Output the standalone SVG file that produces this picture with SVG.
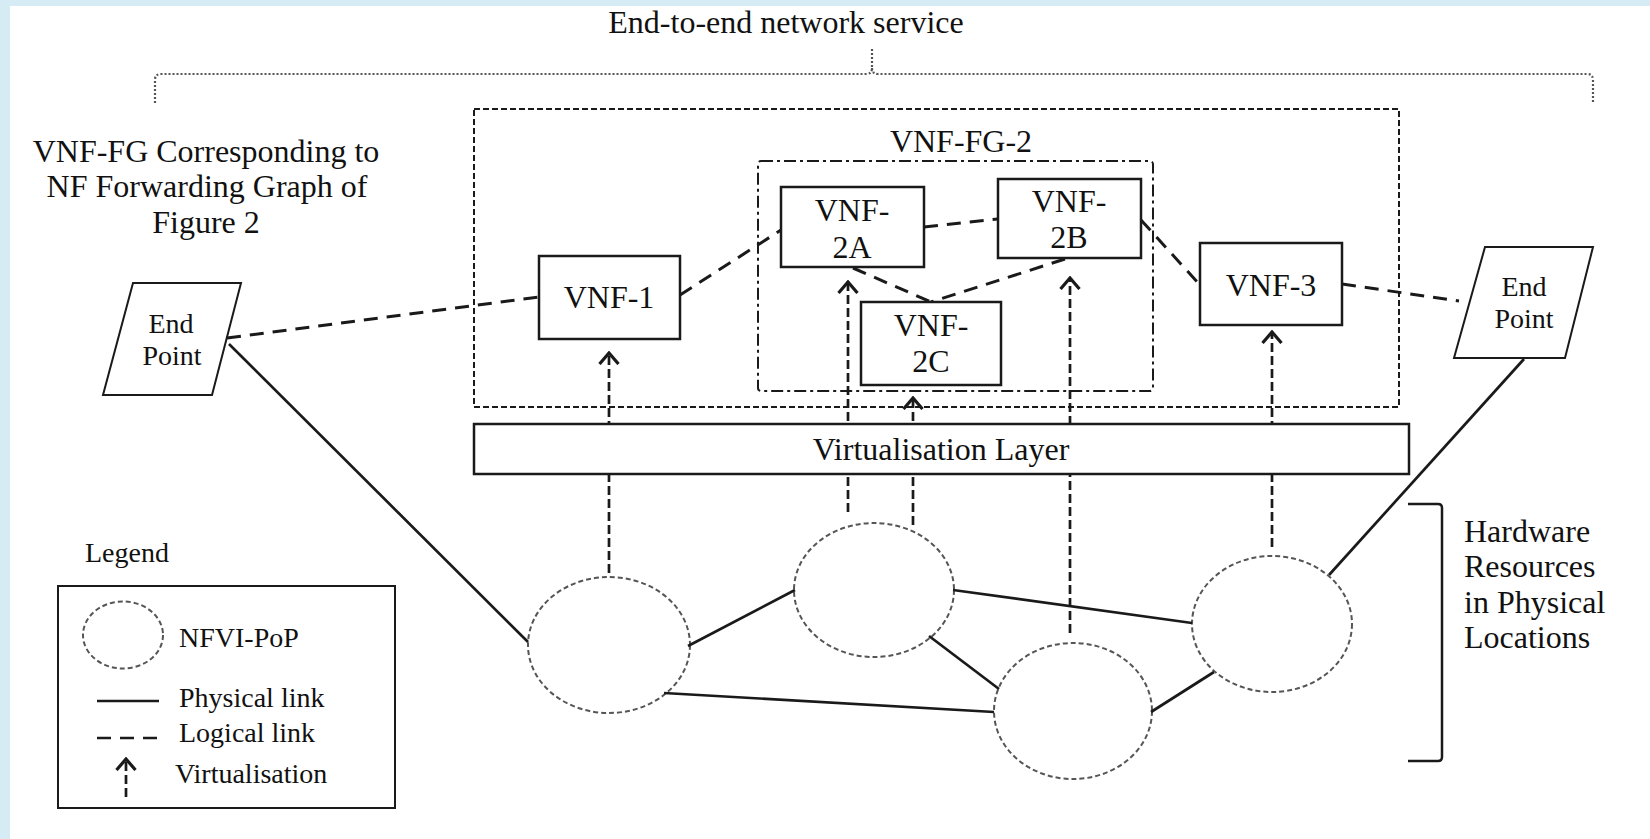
<svg xmlns="http://www.w3.org/2000/svg" width="1650" height="839" viewBox="0 0 1650 839">
<style>
text{font-family:'Liberation Serif','Times New Roman',Times,serif;fill:#111}
.t32{font-size:32px}
.t28{font-size:28px}
.mid{text-anchor:middle}
.box{fill:#fff;stroke:#1a1a1a;stroke-width:2.5}
.ep{fill:#fff;stroke:#1a1a1a;stroke-width:2}
.pop{fill:none;stroke:#555;stroke-width:2;stroke-dasharray:5 3}
.phys{stroke:#1a1a1a;stroke-width:2.7;fill:none}
.logi{stroke:#1a1a1a;stroke-width:3;stroke-dasharray:14 9;fill:none}
.virt{stroke:#1a1a1a;stroke-width:2.7;stroke-dasharray:9 4;fill:none}
</style>
<defs>
<marker id="chev" viewBox="0 0 14 22" refX="12" refY="11" markerWidth="14" markerHeight="22" markerUnits="userSpaceOnUse" orient="auto">
<path d="M1,1.5 L12,11 L1,20.5" fill="none" stroke="#1a1a1a" stroke-width="3.2"/>
</marker>
</defs>
<rect x="0" y="0" width="1650" height="839" fill="#fff"/>
<rect x="0" y="0" width="10" height="839" fill="#d5ecf4"/>
<rect x="0" y="0" width="1650" height="6" fill="#d5ecf4"/>

<g font-family="Liberation Serif, Times New Roman, serif">
<g id="title">
<text class="t32 mid" x="786" y="33">End-to-end network service</text>
<path d="M155,103 L155,80 Q155,74 161,74 L866,74 Q872,74 872,68 L872,48 M872,68 Q872,74 878,74 L1587,74 Q1593,74 1593,80 L1593,103" fill="none" stroke="#555" stroke-width="2.2" stroke-dasharray="2 2"/>
</g>

<g id="vnffg-label">
<text class="t32 mid" x="206" y="162">VNF-FG Corresponding to</text>
<text class="t32 mid" x="207" y="197">NF Forwarding Graph of</text>
<text class="t32 mid" x="206" y="233">Figure 2</text>
</g>

<g id="outer-box">
<rect x="474" y="109" width="925" height="298" fill="none" stroke="#1a1a1a" stroke-width="2" stroke-dasharray="6 3"/>
</g>
<g id="vnffg2">
<rect x="758" y="161" width="395" height="230" rx="3" fill="none" stroke="#1a1a1a" stroke-width="2" stroke-dasharray="12 4 3 4"/>
<text class="t32 mid" x="961" y="152">VNF-FG-2</text>
</g>

<g id="pops">
<ellipse id="pop1" class="pop" cx="609" cy="645" rx="81" ry="68"/>
<ellipse id="pop2" class="pop" cx="874" cy="590" rx="80" ry="67"/>
<ellipse id="pop3" class="pop" cx="1073" cy="711" rx="79" ry="68"/>
<ellipse id="pop4" class="pop" cx="1272" cy="624" rx="80" ry="68"/>
</g>

<g id="connectors">
<line class="phys" x1="229" y1="344" x2="528" y2="642"/>
<line class="phys" x1="1524" y1="359" x2="1329" y2="575"/>
<line class="phys" x1="688" y1="646" x2="795" y2="590"/>
<line class="phys" x1="953" y1="590" x2="1192" y2="623"/>
<line class="phys" x1="929" y1="636" x2="999" y2="689"/>
<line class="phys" x1="664" y1="693" x2="994" y2="712"/>
<line class="phys" x1="1151" y1="712" x2="1214" y2="672"/>

<line class="logi" x1="227" y1="338" x2="539" y2="297"/>
<line class="logi" x1="680" y1="295" x2="781" y2="230"/>
<line class="logi" x1="924" y1="227" x2="998" y2="219"/>
<line class="logi" x1="853" y1="268" x2="931" y2="302"/>
<line class="logi" x1="1065" y1="259" x2="931" y2="302"/>
<line class="logi" x1="1141" y1="220" x2="1200" y2="285"/>
<line class="logi" x1="1342" y1="284" x2="1459" y2="301"/>

<line class="virt" x1="609" y1="573" x2="609" y2="353" marker-end="url(#chev)"/>
<line class="virt" x1="848" y1="512" x2="848" y2="282" marker-end="url(#chev)"/>
<line class="virt" x1="913" y1="525" x2="913" y2="398" marker-end="url(#chev)"/>
<line class="virt" x1="1070" y1="633" x2="1070" y2="278" marker-end="url(#chev)"/>
<line class="virt" x1="1272" y1="547" x2="1272" y2="332" marker-end="url(#chev)"/>
</g>

<g id="virt-layer">
<rect class="box" x="474" y="424" width="935" height="50"/>
<text class="t32 mid" x="941" y="460">Virtualisation Layer</text>
</g>

<g id="vnf1">
<rect class="box" x="539" y="256" width="141" height="83"/>
<text class="t32 mid" x="609" y="308">VNF-1</text>
</g>
<g id="vnf2a">
<rect class="box" x="781" y="187" width="143" height="80"/>
<text class="t32 mid" x="852" y="221">VNF-</text>
<text class="t32 mid" x="852" y="258">2A</text>
</g>
<g id="vnf2b">
<rect class="box" x="998" y="179" width="143" height="79"/>
<text class="t32 mid" x="1069" y="212">VNF-</text>
<text class="t32 mid" x="1069" y="248">2B</text>
</g>
<g id="vnf2c">
<rect class="box" x="861" y="302" width="140" height="83"/>
<text class="t32 mid" x="931" y="336">VNF-</text>
<text class="t32 mid" x="931" y="372">2C</text>
</g>
<g id="vnf3">
<rect class="box" x="1200" y="243" width="142" height="82"/>
<text class="t32 mid" x="1271" y="296">VNF-3</text>
</g>

<g id="endpoint-left">
<polygon class="ep" points="133,283 241,283 212,395 103,395"/>
<text class="t28 mid" x="171" y="333">End</text>
<text class="t28 mid" x="172" y="365">Point</text>
</g>
<g id="endpoint-right">
<polygon class="ep" points="1485,247 1593,247 1565,358 1454,358"/>
<text class="t28 mid" x="1524" y="296">End</text>
<text class="t28 mid" x="1524" y="328">Point</text>
</g>

<g id="hardware">
<path d="M1408,504 L1438,504 Q1442,504 1442,508 L1442,757 Q1442,761 1438,761 L1408,761" fill="none" stroke="#1a1a1a" stroke-width="2.5"/>
<text class="t32" x="1464" y="542">Hardware</text>
<text class="t32" x="1464" y="577">Resources</text>
<text class="t32" x="1464" y="613">in Physical</text>
<text class="t32" x="1464" y="648">Locations</text>
</g>

<g id="legend">
<text class="t28" x="85" y="562">Legend</text>
<rect x="58" y="586" width="337" height="222" fill="none" stroke="#1a1a1a" stroke-width="2"/>
<ellipse class="pop" cx="123" cy="635" rx="40" ry="33.5"/>
<text class="t28" x="179" y="647">NFVI-PoP</text>
<line class="phys" x1="97" y1="701" x2="159" y2="701"/>
<text class="t28" x="179" y="707">Physical link</text>
<line x1="97" y1="738" x2="159" y2="738" stroke="#1a1a1a" stroke-width="2.5" stroke-dasharray="14 9"/>
<text class="t28" x="179" y="742">Logical link</text>
<line class="virt" x1="126" y1="797" x2="126" y2="759" stroke-dasharray="7 4" marker-end="url(#chev)"/>
<text class="t28" x="175" y="783">Virtualisation</text>
</g>
</g>
</svg>
